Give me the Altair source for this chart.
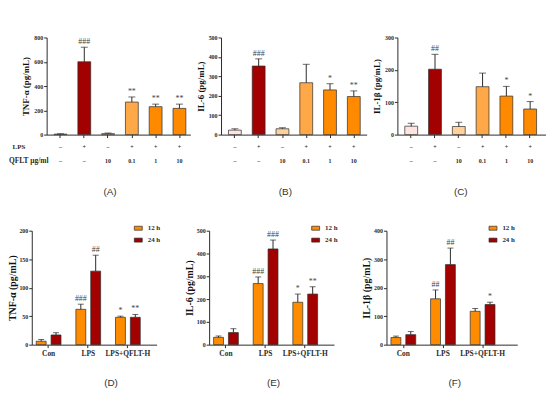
import altair as alt
import pandas as pd

SERIF = "Liberation Serif"
SANS = "Liberation Sans"
INK = "#2b2b2b"

# ---------------- top row data ----------------
top_groups = ["Con", "LPS", "QFLT10", "LPS+QFLT0.1", "LPS+QFLT1", "LPS+QFLT10"]
lps_row = ["–", "+", "–", "+", "+", "+"]
qflt_row = ["–", "–", "10", "0.1", "1", "10"]
top_colors = ["#FDE4E1", "#A30000", "#FDD09C", "#FFA847", "#FF8A00", "#FF8A00"]

tnf_mean = [4, 600, 8, 268, 230, 216]
tnf_err = [3, 120, 5, 42, 21, 35]
tnf_sig = ["", "###", "", "**", "**", "**"]

il6_mean = [23, 353, 30, 267, 230, 196]
il6_err = [7, 37, 5, 95, 32, 29]
il6_sig = ["", "###", "", "", "*", "**"]

il1b_mean = [26, 202, 25, 148, 119, 79]
il1b_err = [9, 46, 13, 42, 30, 23]
il1b_sig = ["", "##", "", "", "*", "*"]

# ---------------- bottom row data ----------------
bgroups = ["Con", "LPS", "LPS+QFLT-H"]
times = ["12 h", "24 h"]
time_colors = ["#FF8C00", "#A30000"]

d_12 = [6, 62, 48]
d_12e = [3, 9, 2]
d_24 = [17, 129, 48]
d_24e = [4, 28, 5]
d_s12 = ["", "###", "*"]
d_s24 = ["", "##", "**"]

e_12 = [32, 268, 186]
e_12e = [6, 29, 36]
e_24 = [53, 420, 222]
e_24e = [17, 39, 32]
e_s12 = ["", "###", "*"]
e_s24 = ["", "###", "**"]

f_12 = [25, 161, 117]
f_12e = [5, 31, 10]
f_24 = [35, 281, 141]
f_24e = [11, 58, 8]
f_s12 = ["", "##", ""]
f_s24 = ["", "##", "*"]


def top_panel(mean, err, sig, title, ymax, yvals, width, rng, po, align, yoff,
              letter, letter_x, row_titles=False):
    h = 98
    df = pd.DataFrame({"g": top_groups, "v": mean, "e": err, "s": sig,
                       "lps": lps_row, "q": qflt_row})
    base = alt.Chart(df).transform_calculate(top="datum.v + datum.e")
    x = alt.X("g:N", sort=top_groups,
              scale=alt.Scale(range=rng, paddingInner=0.46, paddingOuter=po, align=align),
              axis=alt.Axis(title=None, labels=False, tickSize=3))
    y_axis = alt.Axis(title=title, values=yvals, offset=yoff, tickSize=3,
                      labelFontSize=6, labelPadding=1, labelOverlap=False,
                      titleFontSize=9, titleX=-21, titleY=h / 2,
                      titleBaseline="middle")
    yscale = alt.Scale(domain=[0, ymax], nice=False)

    def Y(field):
        return alt.Y(field, scale=yscale, axis=y_axis, title=title)

    bars = base.mark_bar(stroke=INK, strokeWidth=0.7).encode(
        x=x, y=Y("v:Q"),
        color=alt.Color("g:N", scale=alt.Scale(domain=top_groups, range=top_colors), legend=None),
    )
    rule = base.mark_rule(color=INK, strokeWidth=1).encode(x=x, y=Y("v:Q"), y2="top:Q")
    cap = base.mark_tick(color=INK, size=7, thickness=1).encode(x=x, y=Y("top:Q"))
    stars = base.mark_text(font=SERIF, fontSize=8, color="#444", baseline="bottom", dy=-1).encode(
        x=x, y=Y("top:Q"), text="s:N")
    r1 = base.mark_text(font=SERIF, fontSize=6, fontWeight="bold", color=INK).encode(
        x=x, y=alt.value(h + 13), text="lps:N")
    r2 = base.mark_text(font=SERIF, fontSize=6, fontWeight="bold", color=INK).encode(
        x=x, y=alt.value(h + 27), text="q:N")
    lab = alt.Chart(pd.DataFrame({"t": [letter]})).mark_text(
        font=SANS, fontSize=10, color="#333").encode(
        x=alt.value(letter_x), y=alt.value(h + 58), text="t:N")
    layers = [bars, rule, cap, stars, r1, r2, lab]
    if row_titles:
        t1 = alt.Chart(pd.DataFrame({"t": ["LPS"]})).mark_text(
            font=SERIF, fontSize=7, fontWeight="bold", color=INK).encode(
            x=alt.value(-13), y=alt.value(h + 13), text="t:N")
        t2 = alt.Chart(pd.DataFrame({"t": ["QFLT μg/ml"]})).mark_text(
            font=SERIF, fontSize=7.5, fontWeight="bold", color=INK, align="left").encode(
            x=alt.value(-23), y=alt.value(h + 27), text="t:N")
        layers += [t1, t2]
    return alt.layer(*layers).properties(width=width, height=h)


def bottom_panel(m12, e12, m24, e24, s12, s24, title, ymax, yvals, width, po, align,
                 letter, letter_x, title_x):
    h = 115
    df = pd.DataFrame({"g": bgroups * 2, "t": [times[0]] * 3 + [times[1]] * 3,
                       "v": m12 + m24, "e": e12 + e24, "s": s12 + s24})
    base = alt.Chart(df).transform_calculate(top="datum.v + datum.e")
    x = alt.X("g:N", sort=bgroups,
              scale=alt.Scale(paddingInner=0.375, paddingOuter=po, align=align),
              axis=alt.Axis(title=None, labelAngle=0, labelFontSize=7.5, labelPadding=2,
                            tickSize=3))
    xo = alt.XOffset("t:N", sort=times, scale=alt.Scale(paddingInner=0.333, paddingOuter=0))
    y_axis = alt.Axis(title=title, values=yvals, tickSize=3, labelFontSize=6, labelPadding=1,
                      labelOverlap=False,
                      titleFontSize=10, titleX=title_x, titleY=h / 2, titleBaseline="middle")
    yscale = alt.Scale(domain=[0, ymax], nice=False)

    def Y(field):
        return alt.Y(field, scale=yscale, axis=y_axis, title=title)

    bars = base.mark_bar(stroke=INK, strokeWidth=0.7).encode(
        x=x, xOffset=xo, y=Y("v:Q"),
        color=alt.Color("t:N", title=None, scale=alt.Scale(domain=times, range=time_colors),
                        legend=alt.Legend(orient="none", legendX=103, legendY=-7,
                                          symbolType="M-1,-0.5H1V0.5H-1Z", symbolSize=64,
                                          symbolStrokeColor=INK, symbolStrokeWidth=0.7,
                                          labelFont=SERIF, labelFontSize=7,
                                          labelFontWeight="bold", labelColor=INK,
                                          rowPadding=4, labelOffset=5, padding=0)),
    )
    rule = base.mark_rule(color=INK, strokeWidth=1).encode(
        x=x, xOffset=xo, y=Y("v:Q"), y2="top:Q")
    cap = base.mark_tick(color=INK, size=6, thickness=1).encode(
        x=x, xOffset=xo, y=Y("top:Q"))
    stars = base.mark_text(font=SERIF, fontSize=8, color="#444", baseline="bottom", dy=-1).encode(
        x=x, xOffset=xo, y=Y("top:Q"), text="s:N")
    lab = alt.Chart(pd.DataFrame({"t": [letter]})).mark_text(
        font=SANS, fontSize=10, color="#333").encode(
        x=alt.value(letter_x), y=alt.value(h + 39), text="t:N")
    return alt.layer(bars, rule, cap, stars, lab).properties(width=width, height=h)


A = top_panel(tnf_mean, tnf_err, tnf_sig, "TNF-α (pg/mL)", 800, [0, 200, 400, 600, 800],
              160, [15, 160], 0.25, 0.625, -15, "(A)", 79, row_titles=True)
B = top_panel(il6_mean, il6_err, il6_sig, "IL-6 (pg/mL)", 500, [0, 100, 200, 300, 400, 500],
              147, [0, 147], 0.292, 0.536, 0, "(B)", 65)
C = top_panel(il1b_mean, il1b_err, il1b_sig, "IL-1β (pg/mL)", 300, [0, 100, 200, 300],
              150, [0, 150], 0.354, 0.44, 0, "(C)", 64)

D = bottom_panel(d_12, d_12e, d_24, d_24e, d_s12, d_s24, "TNF-α (pg/mL)", 200,
                 [0, 50, 100, 150, 200], 126, 0.2625, 0.214, "(D)", 80, -19)
E = bottom_panel(e_12, e_12e, e_24, e_24e, e_s12, e_s24, "IL-6 (pg/mL)", 500,
                 [0, 100, 200, 300, 400, 500], 126, 0.2625, 0.214, "(E)", 65, -20)
F = bottom_panel(f_12, f_12e, f_24, f_24e, f_s12, f_s24, "IL-1β (pg/mL)", 400,
                 [0, 100, 200, 300, 400], 132, 0.3375, 0.167, "(F)", 69, -20)

top = alt.hconcat(A, B, C, spacing=31, bounds="flush").resolve_scale(
    x="independent", y="independent", color="independent")
bottom = alt.hconcat(D, E, F, spacing=53, bounds="flush").resolve_scale(
    x="independent", y="independent", color="independent", xOffset="independent"
).resolve_legend(color="independent")

chart = alt.vconcat(top, bottom, spacing=195, bounds="flush").resolve_scale(
    x="independent", y="independent", color="independent"
).resolve_legend(color="independent").properties(
    padding={"left": 0, "top": 25, "right": 0, "bottom": 0}
).configure_view(stroke=None).configure_axis(
    grid=False, domainColor=INK, tickColor=INK, domainWidth=1, tickWidth=1,
    labelOverlap=False,
    labelFont=SERIF, labelFontWeight="bold", labelColor=INK,
    titleFont=SERIF, titleFontWeight="bold", titleColor="#111",
)

chart.save("out.html", embed_options={"renderer": "svg", "actions": False})
